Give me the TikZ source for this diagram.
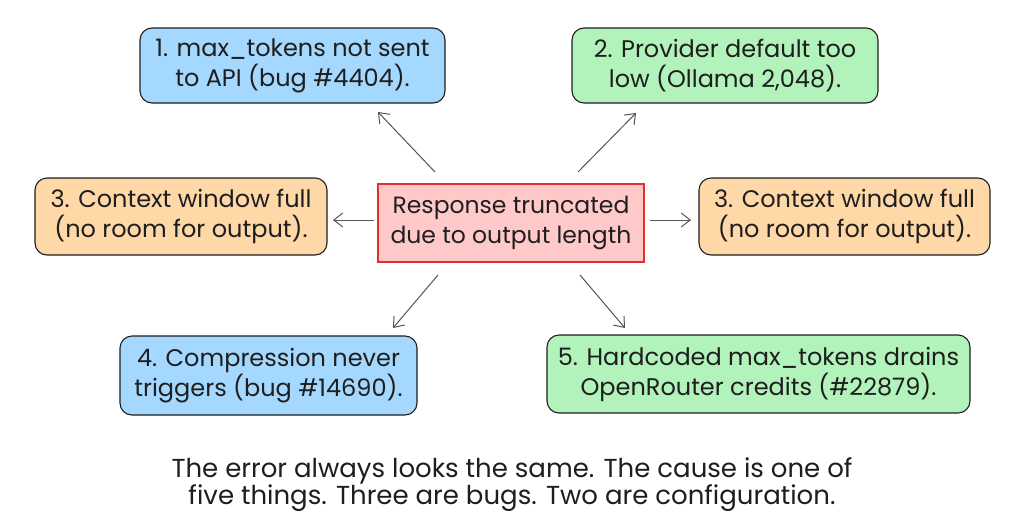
\documentclass[tikz,border=0pt]{standalone}
\usepackage{fontspec}
\setmainfont{Poppins}
\usetikzlibrary{arrows.meta,calc}
\definecolor{ink}{HTML}{1E1E1E}
\definecolor{bluef}{HTML}{A5D8FF}
\definecolor{greenf}{HTML}{B2F2BB}
\definecolor{orangef}{HTML}{FFD8A8}
\definecolor{redf}{HTML}{FFC9C9}
\definecolor{redd}{HTML}{E03131}
\definecolor{arr}{HTML}{555555}
\begin{document}
\begin{tikzpicture}[x=1pt,y=-1pt,
  cause/.style={draw=ink,line width=1.1pt,rounded corners=12pt,align=center,
    font=\fontsize{24}{30}\selectfont,inner sep=0pt,text=ink},
  centerbox/.style={draw=redd,line width=1.1pt,fill=redf,align=center,
    font=\fontsize{23.5}{30}\selectfont,inner sep=0pt,text=ink},
  link/.style={draw=arr,line width=1pt,-{Straight Barb[length=9pt,width=14pt]}},
  caption/.style={align=center,font=\fontsize{26}{27}\selectfont,text=ink}]
\useasboundingbox (0,0) rectangle (1024,512);
\fill[white] (0,0) rectangle (1024,512);
\node[cause,fill=bluef,minimum width=305pt,minimum height=75pt] (b1) at (292.5,65.5) {1. max\_tokens not sent\\to API (bug \#4404).};
\node[cause,fill=greenf,minimum width=306pt,minimum height=75pt] (b2) at (725,65.5) {2. Provider default too\\low (Ollama 2,048).};
\node[cause,fill=orangef,minimum width=292pt,minimum height=77pt] (b3) at (181,216.5) {3. Context window full\\(no room for output).};
\node[centerbox,minimum width=266pt,minimum height=78pt] (c) at (511,223) {Response truncated\\due to output length};
\node[cause,fill=orangef,minimum width=291pt,minimum height=77pt] (b3r) at (844.5,216.5) {3. Context window full\\(no room for output).};
\node[cause,fill=bluef,minimum width=297pt,minimum height=79pt] (b4) at (268.5,375.5) {4. Compression never\\triggers (bug \#14690).};
\node[cause,fill=greenf,minimum width=423pt,minimum height=78pt] (b5) at (758.5,374) {5. Hardcoded max\_tokens drains\\OpenRouter credits (\#22879).};
\node[caption] (cap) at (512,485) {The error always looks the same. The cause is one of\\five things. Three are bugs. Two are configuration.};
\coordinate (s1) at (435,172); \coordinate (e1) at (378,112);
\coordinate (s2) at (578,172); \coordinate (e2) at (636,113);
\coordinate (s3) at (374,220); \coordinate (e3) at (333,220);
\coordinate (s4) at (650,220); \coordinate (e4) at (691,220);
\coordinate (s5) at (438,275); \coordinate (e5) at (393,328);
\coordinate (s6) at (580,275); \coordinate (e6) at (625,328);
\draw[link] (s1) -- (e1);
\draw[link] (s2) -- (e2);
\draw[link] (s3) -- (e3);
\draw[link] (s4) -- (e4);
\draw[link] (s5) -- (e5);
\draw[link] (s6) -- (e6);
\end{tikzpicture}
\end{document}
